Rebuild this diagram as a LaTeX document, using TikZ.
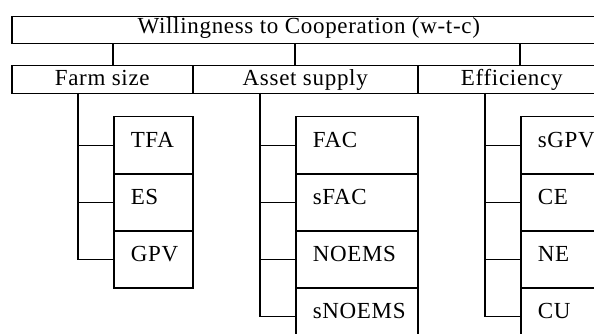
\documentclass[tikz,border=0pt]{standalone}
\usepackage{fontspec}
\setmainfont{Liberation Serif}[LetterSpace=3]
\begin{document}
\begin{tikzpicture}[x=1pt,y=-1pt,
  line width=1.5pt,
  every node/.style={font=\fontsize{23}{27}\selectfont},
  cell/.style={draw, rectangle, inner sep=0pt, anchor=north west},
  topbox/.style={cell, minimum width=594pt, minimum height=27pt, text height=15pt, text depth=8pt},
  catbox/.style={cell, minimum height=28pt, text height=16pt, text depth=4pt},
  leaf/.style={cell, minimum height=57pt, text height=15pt, text depth=10pt, align=left}
]
\useasboundingbox (0,0) rectangle (594,334);
\clip (0,0) rectangle (594,334);
% header
\node[topbox] (top) at (11,16) {Willingness to Cooperation (w-t-c)};
% categories
\node[catbox, minimum width=181pt] (farm) at (11,65) {Farm size};
\node[catbox, minimum width=225pt] (asset) at (192,65) {Asset supply};
\node[catbox, minimum width=188pt] (eff) at (417,65) {Efficiency};
% farm size leaves
\node[leaf, text width=79pt] (tfa) at (113,116) {\hspace*{17pt}TFA};
\node[leaf, text width=79pt] (es)  at (113,173) {\hspace*{17pt}ES};
\node[leaf, text width=79pt] (gpv) at (113,230) {\hspace*{17pt}GPV};
% asset supply leaves
\node[leaf, text width=122pt] (fac)    at (295,116) {\hspace*{17pt}FAC};
\node[leaf, text width=122pt] (sfac)   at (295,173) {\hspace*{17pt}sFAC};
\node[leaf, text width=122pt] (noems)  at (295,230) {\hspace*{17pt}NOEMS};
\node[leaf, text width=122pt] (snoems) at (295,287) {\hspace*{17pt}sNOEMS};
% efficiency leaves
\node[leaf, text width=85pt] (sgpv) at (520,116) {\hspace*{17pt}sGPV};
\node[leaf, text width=85pt] (ce)   at (520,173) {\hspace*{17pt}CE};
\node[leaf, text width=85pt] (ne)   at (520,230) {\hspace*{17pt}NE};
\node[leaf, text width=85pt] (cu)   at (520,287) {\hspace*{17pt}CU};
% header to categories
\draw (top.south -| tfa.west) -- (farm.north -| tfa.west);
\draw (top.south -| fac.west) -- (asset.north -| fac.west);
\draw (top.south -| sgpv.west) -- (eff.north -| sgpv.west);
% trunks
\coordinate (t1) at (78,93);
\coordinate (t2) at (260,93);
\coordinate (t3) at (485,93);
\draw (t1) |- (gpv.west);
\draw (tfa.west) -- (tfa.west -| t1);
\draw (es.west) -- (es.west -| t1);
\draw (t2) |- (snoems.west);
\draw (fac.west) -- (fac.west -| t2);
\draw (sfac.west) -- (sfac.west -| t2);
\draw (noems.west) -- (noems.west -| t2);
\draw (t3) |- (cu.west);
\draw (sgpv.west) -- (sgpv.west -| t3);
\draw (ce.west) -- (ce.west -| t3);
\draw (ne.west) -- (ne.west -| t3);
\end{tikzpicture}
\end{document}
